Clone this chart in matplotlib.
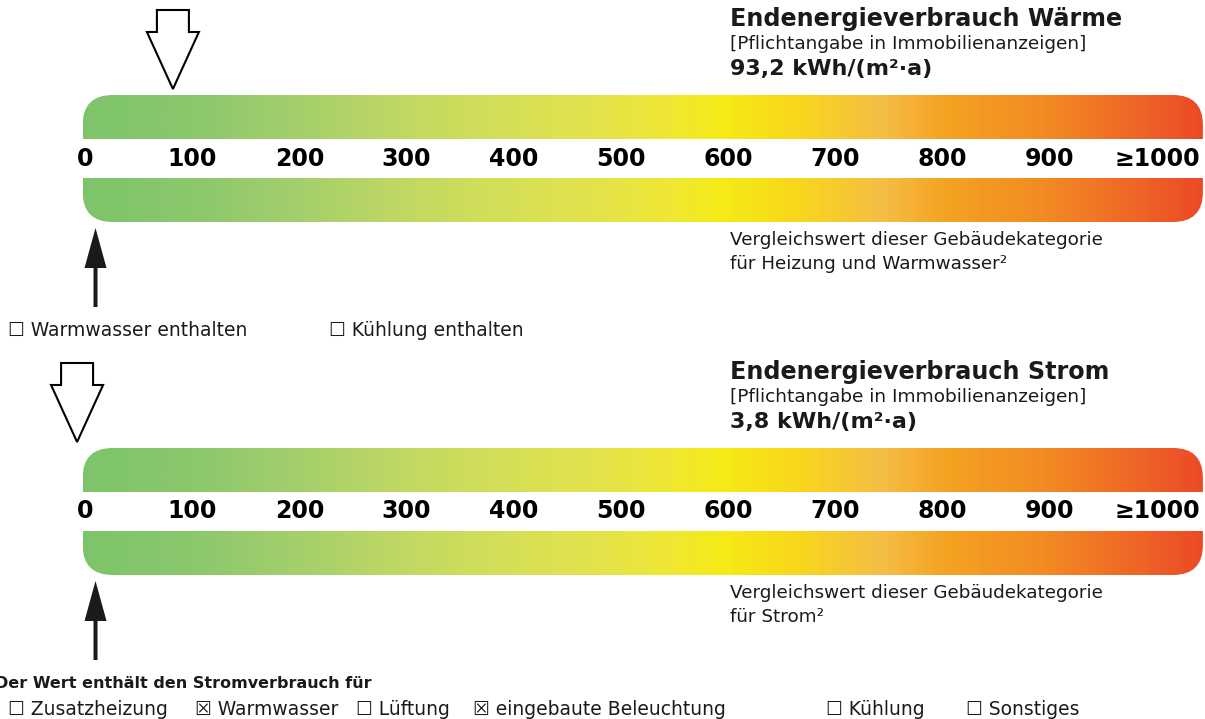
import matplotlib
matplotlib.use("Agg")
import matplotlib.pyplot as plt
import numpy as np
from matplotlib.patches import FancyBboxPatch, Polygon, Rectangle
from matplotlib.colors import LinearSegmentedColormap

# Data
scale_ticks = [0, 100, 200, 300, 400, 500, 600, 700, 800, 900, 1000]
tick_labels = ["0", "100", "200", "300", "400", "500", "600", "700", "800", "900", "\u22651000"]

titles = ["Endenergieverbrauch W\u00e4rme", "Endenergieverbrauch Strom"]
values = [93.2, 3.8]
value_labels = ["93,2 kWh/(m\u00b2\u00b7a)", "3,8 kWh/(m\u00b2\u00b7a)"]
compare_values = [21, 21]
compare_texts = [["Vergleichswert dieser Geb\u00e4udekategorie", "f\u00fcr Heizung und Warmwasser\u00b2"],
                 ["Vergleichswert dieser Geb\u00e4udekategorie", "f\u00fcr Strom\u00b2"]]

heat_options = ["Warmwasser enthalten", "K\u00fchlung enthalten"]
heat_checked = [False, False]
power_options = ["Zusatzheizung", "Warmwasser", "L\u00fcftung", "eingebaute Beleuchtung", "K\u00fchlung", "Sonstiges"]
power_checked = [False, True, False, True, False, False]

# Layout (pixels, y from top)
W, H = 1205, 719
PX0, PXU = 73.0, 1.072          # pixel of value 0, pixels per unit
bar_lo, bar_hi = 9, 1054
bar_tops = [95, 448]
band_h, gap_h = 44, 39
radius = 30

stops = [(0.00, "#7dc46a"), (0.10, "#8cc86c"), (0.19, "#a4cf6c"), (0.28, "#bfd863"),
         (0.37, "#d4df58"), (0.46, "#e3e34a"), (0.52, "#efe735"), (0.57, "#f5eb16"),
         (0.64, "#f8d61c"), (0.715, "#f4be45"), (0.77, "#f5a322"), (0.86, "#f28b22"),
         (0.95, "#ee6226"), (1.00, "#ec4a27")]
cmap = LinearSegmentedColormap.from_list("energy", stops)

fig = plt.figure(figsize=(W / 100, H / 100), dpi=100)
ax = fig.add_axes([0, 0, 1, 1])
ax.set_xlim(-PX0 / PXU, (W - PX0) / PXU)
ax.set_ylim(H, 0)
ax.axis("off")

font = "DejaVu Sans"
txt_col = "#1a1a1a"


def hollow_arrow(v, top):
    # outline arrow pointing down, sizes in pixels
    sw, hw = 16 / PXU, 26 / PXU
    pts = [(v - sw, top), (v + sw, top), (v + sw, top + 22), (v + hw, top + 22),
           (v, top + 79), (v - hw, top + 22), (v - sw, top + 22)]
    ax.add_patch(Polygon(pts, closed=True, facecolor="white", edgecolor="black", lw=1.5, zorder=5))


def solid_arrow(v, tip):
    sw, hw = 2 / PXU, 11 / PXU
    pts = [(v, tip), (v + hw, tip + 40), (v + sw, tip + 40), (v + sw, tip + 79),
           (v - sw, tip + 79), (v - sw, tip + 40), (v - hw, tip + 40)]
    ax.add_patch(Polygon(pts, closed=True, facecolor="#1a1a1a", edgecolor="none", zorder=5))


for i in range(2):
    top = bar_tops[i]
    bottom = top + 2 * band_h + gap_h
    grad = np.linspace(0, 1, 600).reshape(1, -1)
    im = ax.imshow(grad, cmap=cmap, aspect="auto", extent=(bar_lo, bar_hi, bottom, top), zorder=1)
    box = FancyBboxPatch((bar_lo, top), bar_hi - bar_lo, bottom - top,
                         boxstyle="round,pad=0,rounding_size=%f" % (radius / PXU),
                         mutation_aspect=PXU, facecolor="none", edgecolor="none",
                         transform=ax.transData)
    ax.add_patch(box)
    im.set_clip_path(box)
    ax.add_patch(Rectangle((bar_lo - 5, top + band_h), bar_hi - bar_lo + 10, gap_h,
                           facecolor="white", edgecolor="none", zorder=2))

    mid = top + band_h + gap_h / 2
    for t, lab in zip(scale_ticks, tick_labels):
        ax.text(t + 12 / PXU, mid, lab, ha="center", va="center", fontsize=17,
                fontweight="bold", family=font, color="black", zorder=3)

    tx = (730 - PX0) / PXU
    ax.text(tx, top - 69, titles[i], ha="left", va="baseline", fontsize=17.2,
            fontweight="bold", family=font, color=txt_col)
    ax.text(tx, top - 46, "[Pflichtangabe in Immobilienanzeigen]", ha="left",
            va="baseline", fontsize=13.3, family=font, color=txt_col)
    ax.text(tx, top - 20, value_labels[i], ha="left", va="baseline", fontsize=16,
            fontweight="bold", family=font, color=txt_col)
    ax.text(tx, bottom + 23, compare_texts[i][0], ha="left", va="baseline",
            fontsize=13.2, family=font, color=txt_col)
    ax.text(tx, bottom + 47, compare_texts[i][1], ha="left", va="baseline",
            fontsize=13.2, family=font, color=txt_col)

    hollow_arrow(values[i], top - 85)
    solid_arrow(compare_values[i], bottom + 6)

box_char = {False: "\u2610", True: "\u2612"}

heat_x = [8, 329]
for x, lab, c in zip(heat_x, heat_options, heat_checked):
    ax.text((x - PX0) / PXU, 336, box_char[c] + " " + lab, ha="left", va="baseline",
            fontsize=13.5, family=font, color=txt_col)

ax.text((-5 - PX0) / PXU, 688, "Der Wert enth\u00e4lt den Stromverbrauch f\u00fcr", ha="left",
        va="baseline", fontsize=11.5, fontweight="bold", family=font, color=txt_col)
power_x = [8, 195, 356, 473, 826, 966]
for x, lab, c in zip(power_x, power_options, power_checked):
    ax.text((x - PX0) / PXU, 715, box_char[c] + " " + lab, ha="left", va="baseline",
            fontsize=13.5, family=font, color=txt_col)

fig.savefig("out.png", dpi=100)
